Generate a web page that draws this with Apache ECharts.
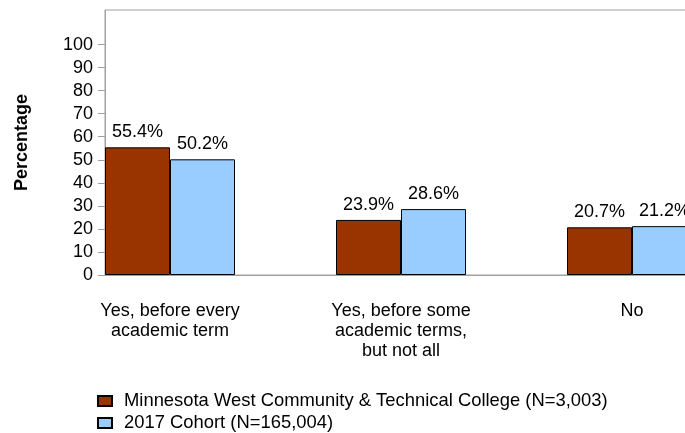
<!DOCTYPE html>
<html><head><meta charset="utf-8">
<script src="https://cdn.jsdelivr.net/npm/echarts@6/dist/echarts.min.js"></script>
<style>html,body{margin:0;padding:0;background:#fff}#c{width:685px;height:433px}</style>
</head><body><div id="c"></div>
<script>
const categories = ["Yes, before every\nacademic term", "Yes, before some\nacademic terms,\nbut not all", "No"];
const seriesNames = ["Minnesota West Community & Technical College (N=3,003)", "2017 Cohort (N=165,004)"];
const collegeValues = [55.4, 23.9, 20.7];
const cohortValues = [50.2, 28.6, 21.2];
const yTicks = [0, 10, 20, 30, 40, 50, 60, 70, 80, 90, 100];

const font = 'Liberation Sans, Arial, sans-serif';
const chart = echarts.init(document.getElementById('c'), null, {renderer: 'canvas'});
function mk(name, vals, color) {
  return {
    name: name, type: 'bar', barWidth: 65, barGap: '0%',
    data: vals.map((v, i) => [i, v]),
    itemStyle: {color: color, borderColor: '#000', borderWidth: 1},
    label: {show: true, position: 'top', distance: 6, color: '#000', fontFamily: font, fontSize: 18,
      formatter: p => p.value[1].toFixed(1) + '%'}
  };
}
function lg(name, top) {
  return {
    orient: 'vertical', left: 97, top: top, padding: 0, itemWidth: 14, itemHeight: 10,
    icon: 'rect', data: [name],
    textStyle: {color: '#000', fontFamily: font, fontSize: 18.4, padding: [0, 0, 0, 7]}
  };
}
chart.setOption({
  animation: false,
  backgroundColor: '#fff',
  grid: {left: 105, top: 10, width: 592, height: 265, outerBoundsMode: 'none', containLabel: false,
    show: true, borderColor: '#a0a0a0', borderWidth: 1},
  xAxis: {
    type: 'value', min: -0.2814, max: 2.2814,
    axisLine: {show: true, onZero: false, lineStyle: {color: '#a0a0a0'}},
    axisTick: {show: false}, splitLine: {show: false},
    axisLabel: {customValues: [0, 1, 2], formatter: v => categories[Math.round(v)],
      color: '#000', fontFamily: font, fontSize: 18, lineHeight: 20, margin: 26}
  },
  yAxis: {
    type: 'value', min: 0, max: 115,
    name: 'Percentage', nameLocation: 'middle', nameGap: 74, nameRotate: 90,
    nameTextStyle: {color: '#000', fontFamily: font, fontSize: 18, fontWeight: 'bold'},
    axisLine: {show: true, onZero: false, lineStyle: {color: '#a0a0a0'}},
    axisTick: {show: true, length: 7, customValues: yTicks, lineStyle: {color: '#a0a0a0'}},
    splitLine: {show: false},
    axisLabel: {customValues: yTicks, color: '#000', fontFamily: font, fontSize: 18, margin: 12}
  },
  legend: [lg(seriesNames[0], 392), lg(seriesNames[1], 414)],
  series: [mk(seriesNames[0], collegeValues, '#993300'), mk(seriesNames[1], cohortValues, '#99ccff')]
});
</script></body></html>
